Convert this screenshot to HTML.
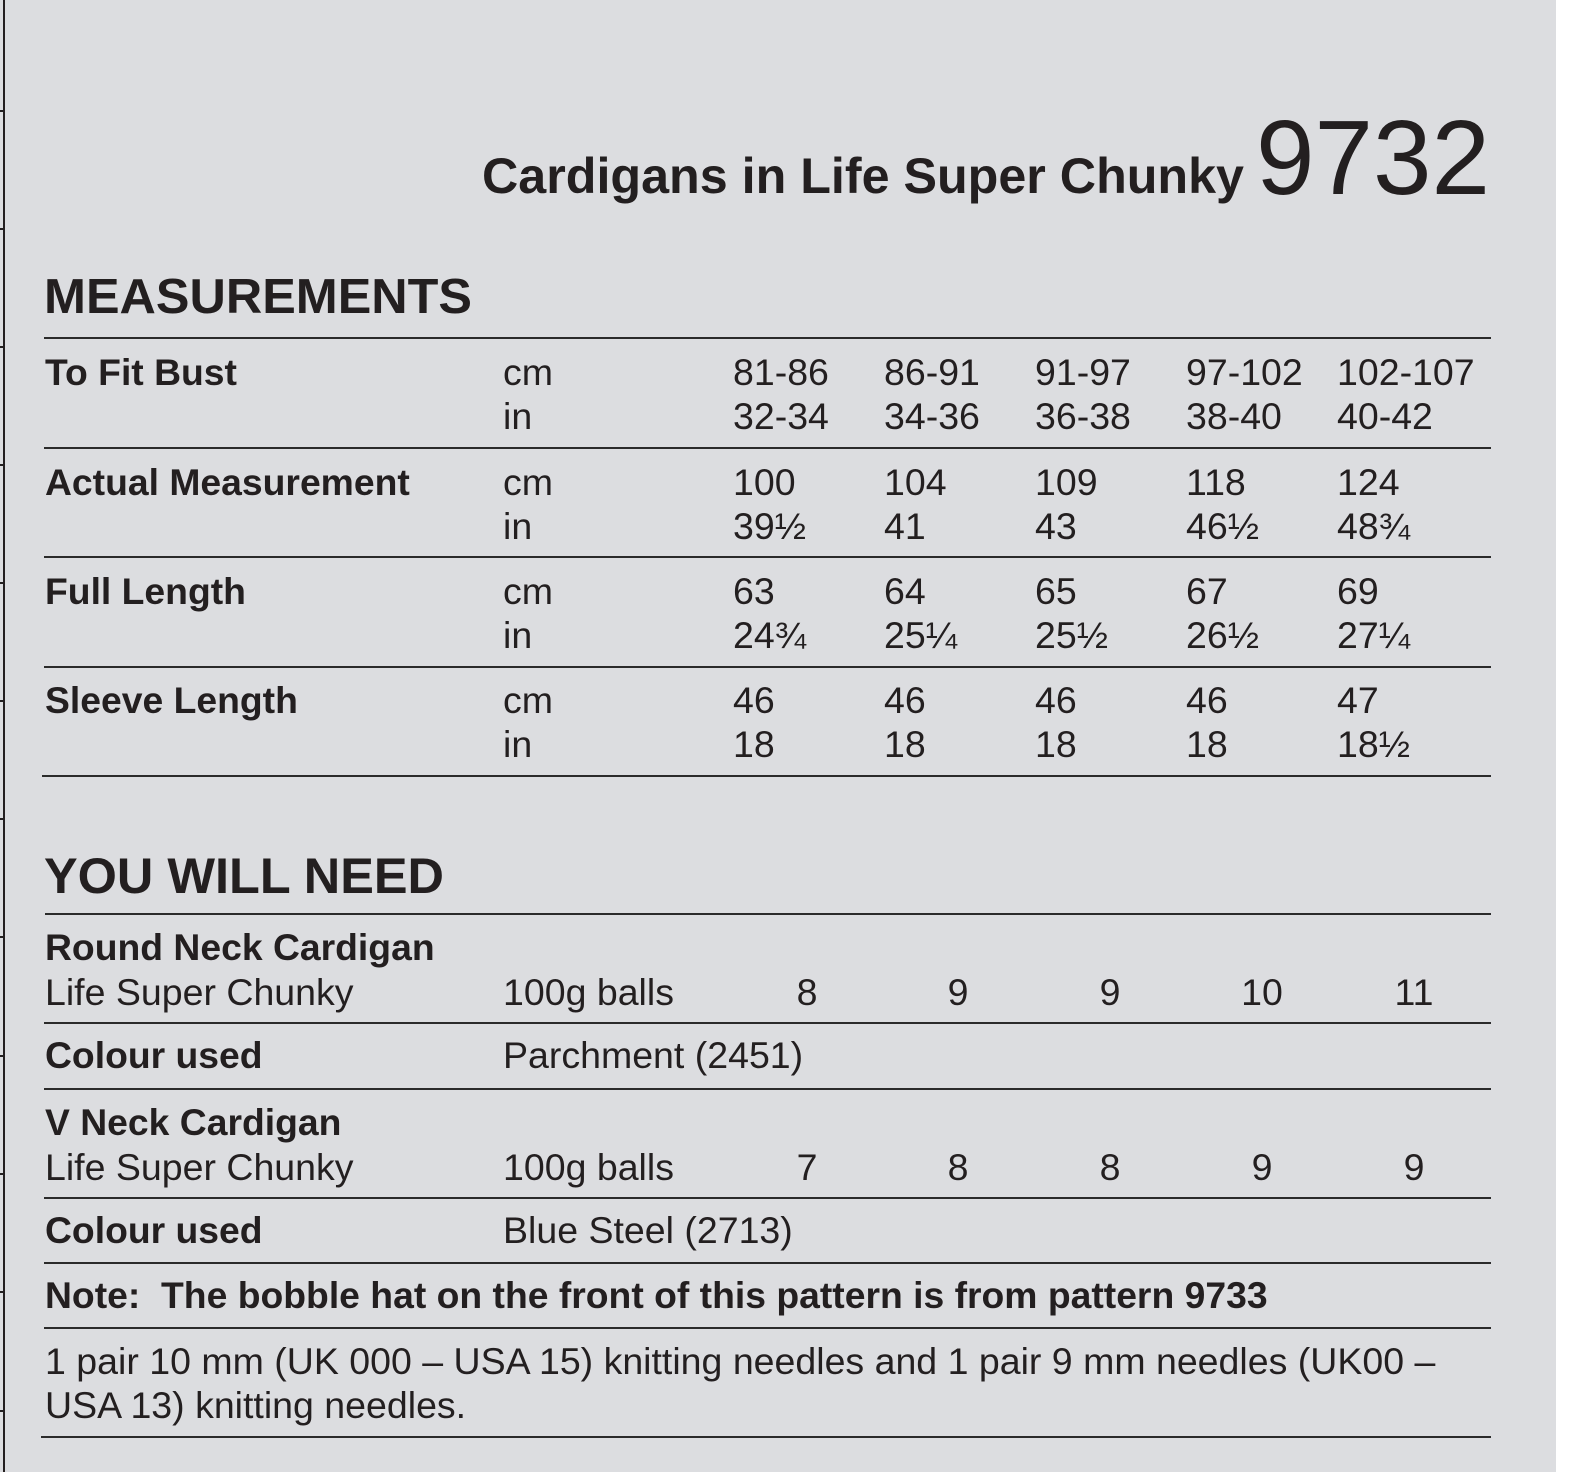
<!DOCTYPE html>
<html>
<head>
<meta charset="utf-8">
<style>
  html, body { margin: 0; padding: 0; background: #ffffff; }
  body { width: 1589px; height: 1472px; overflow: hidden; position: relative; }
  svg { position: absolute; left: 0; top: 0; display: block; }
  text { font-family: "Liberation Sans", Arial, Helvetica, sans-serif; fill: #231f20; }
  .r { font-size: 37.5px; }
  .b { font-size: 37.3px; font-weight: bold; }
  .h { font-size: 50px; font-weight: bold; }
  .q { font-size: 37.5px; text-anchor: middle; }
</style>
</head>
<body>
<svg width="1589" height="1472" viewBox="0 0 1589 1472" xmlns="http://www.w3.org/2000/svg">
  <!-- background -->
  <rect x="0" y="0" width="1589" height="1472" fill="#ffffff"/>
  <rect x="0" y="0" width="1556" height="1472" fill="#dcdde0"/>

  <!-- left border with ticks -->
  <rect x="3" y="0" width="2" height="1472" fill="#231f20"/>
  <g fill="#231f20">
    <rect x="0" y="110" width="4" height="2"/>
    <rect x="0" y="228" width="4" height="2"/>
    <rect x="0" y="346" width="4" height="2"/>
    <rect x="0" y="464" width="4" height="2"/>
    <rect x="0" y="582" width="4" height="2"/>
    <rect x="0" y="700" width="4" height="2"/>
    <rect x="0" y="818" width="4" height="2"/>
    <rect x="0" y="936" width="4" height="2"/>
    <rect x="0" y="1055" width="4" height="2"/>
    <rect x="0" y="1173" width="4" height="2"/>
    <rect x="0" y="1291" width="4" height="2"/>
    <rect x="0" y="1410" width="4" height="2"/>
  </g>

  <!-- Title -->
  <text x="482" y="193" style="font-size:50px;font-weight:bold" textLength="762" lengthAdjust="spacingAndGlyphs">Cardigans in Life Super Chunky</text>
  <text x="1256" y="194" style="font-size:106px" textLength="234" lengthAdjust="spacingAndGlyphs">9732</text>

  <!-- MEASUREMENTS -->
  <text class="h" x="44" y="313" style="font-size:49px" textLength="428" lengthAdjust="spacingAndGlyphs">MEASUREMENTS</text>

  <!-- horizontal rules -->
  <g fill="#2b2b2b">
    <rect x="44" y="337" width="1447" height="2"/>
    <rect x="44" y="447" width="1447" height="2"/>
    <rect x="44" y="556" width="1447" height="2"/>
    <rect x="44" y="666" width="1447" height="2"/>
    <rect x="42" y="775" width="1449" height="2"/>
    <rect x="45" y="913" width="1446" height="2"/>
    <rect x="44" y="1022" width="1447" height="2"/>
    <rect x="44" y="1088" width="1447" height="2"/>
    <rect x="44" y="1197" width="1447" height="2"/>
    <rect x="44" y="1262" width="1447" height="2"/>
    <rect x="44" y="1327" width="1447" height="2"/>
    <rect x="41" y="1436" width="1450" height="2"/>
  </g>

  <!-- Row 1 -->
  <text class="b" x="45" y="385">To Fit Bust</text>
  <text class="r" x="503" y="385">cm</text>
  <text class="r" x="503" y="429">in</text>
  <text class="r" x="733" y="385">81-86</text>
  <text class="r" x="884" y="385">86-91</text>
  <text class="r" x="1035" y="385">91-97</text>
  <text class="r" x="1186" y="385">97-102</text>
  <text class="r" x="1337" y="385">102-107</text>
  <text class="r" x="733" y="429">32-34</text>
  <text class="r" x="884" y="429">34-36</text>
  <text class="r" x="1035" y="429">36-38</text>
  <text class="r" x="1186" y="429">38-40</text>
  <text class="r" x="1337" y="429">40-42</text>

  <!-- Row 2 -->
  <text class="b" x="45" y="495">Actual Measurement</text>
  <text class="r" x="503" y="495">cm</text>
  <text class="r" x="503" y="539">in</text>
  <text class="r" x="733" y="495">100</text>
  <text class="r" x="884" y="495">104</text>
  <text class="r" x="1035" y="495">109</text>
  <text class="r" x="1186" y="495">118</text>
  <text class="r" x="1337" y="495">124</text>
  <text class="r" x="733" y="539">39½</text>
  <text class="r" x="884" y="539">41</text>
  <text class="r" x="1035" y="539">43</text>
  <text class="r" x="1186" y="539">46½</text>
  <text class="r" x="1337" y="539">48¾</text>

  <!-- Row 3 -->
  <text class="b" x="45" y="604">Full Length</text>
  <text class="r" x="503" y="604">cm</text>
  <text class="r" x="503" y="648">in</text>
  <text class="r" x="733" y="604">63</text>
  <text class="r" x="884" y="604">64</text>
  <text class="r" x="1035" y="604">65</text>
  <text class="r" x="1186" y="604">67</text>
  <text class="r" x="1337" y="604">69</text>
  <text class="r" x="733" y="648">24¾</text>
  <text class="r" x="884" y="648">25¼</text>
  <text class="r" x="1035" y="648">25½</text>
  <text class="r" x="1186" y="648">26½</text>
  <text class="r" x="1337" y="648">27¼</text>

  <!-- Row 4 -->
  <text class="b" x="45" y="713">Sleeve Length</text>
  <text class="r" x="503" y="713">cm</text>
  <text class="r" x="503" y="757">in</text>
  <text class="r" x="733" y="713">46</text>
  <text class="r" x="884" y="713">46</text>
  <text class="r" x="1035" y="713">46</text>
  <text class="r" x="1186" y="713">46</text>
  <text class="r" x="1337" y="713">47</text>
  <text class="r" x="733" y="757">18</text>
  <text class="r" x="884" y="757">18</text>
  <text class="r" x="1035" y="757">18</text>
  <text class="r" x="1186" y="757">18</text>
  <text class="r" x="1337" y="757">18½</text>

  <!-- YOU WILL NEED -->
  <text class="h" x="44" y="893" textLength="400" lengthAdjust="spacingAndGlyphs">YOU WILL NEED</text>

  <text class="b" x="45" y="960">Round Neck Cardigan</text>
  <text class="r" x="45" y="1005">Life Super Chunky</text>
  <text class="r" x="503" y="1005">100g balls</text>
  <text class="q" x="807" y="1005">8</text>
  <text class="q" x="958" y="1005">9</text>
  <text class="q" x="1110" y="1005">9</text>
  <text class="q" x="1262" y="1005">10</text>
  <text class="q" x="1414" y="1005">11</text>

  <text class="b" x="45" y="1068">Colour used</text>
  <text class="r" x="503" y="1068">Parchment (2451)</text>

  <text class="b" x="45" y="1135">V Neck Cardigan</text>
  <text class="r" x="45" y="1180">Life Super Chunky</text>
  <text class="r" x="503" y="1180">100g balls</text>
  <text class="q" x="807" y="1180">7</text>
  <text class="q" x="958" y="1180">8</text>
  <text class="q" x="1110" y="1180">8</text>
  <text class="q" x="1262" y="1180">9</text>
  <text class="q" x="1414" y="1180">9</text>

  <text class="b" x="45" y="1243">Colour used</text>
  <text class="r" x="503" y="1243">Blue Steel (2713)</text>

  <text class="b" x="45" y="1308" xml:space="preserve">Note:  The bobble hat on the front of this pattern is from pattern 9733</text>

  <text class="r" x="45" y="1374">1 pair 10 mm (UK 000 – USA 15) knitting needles and 1 pair 9 mm needles (UK00 –</text>
  <text class="r" x="45" y="1418">USA 13) knitting needles.</text>
</svg>
</body>
</html>
